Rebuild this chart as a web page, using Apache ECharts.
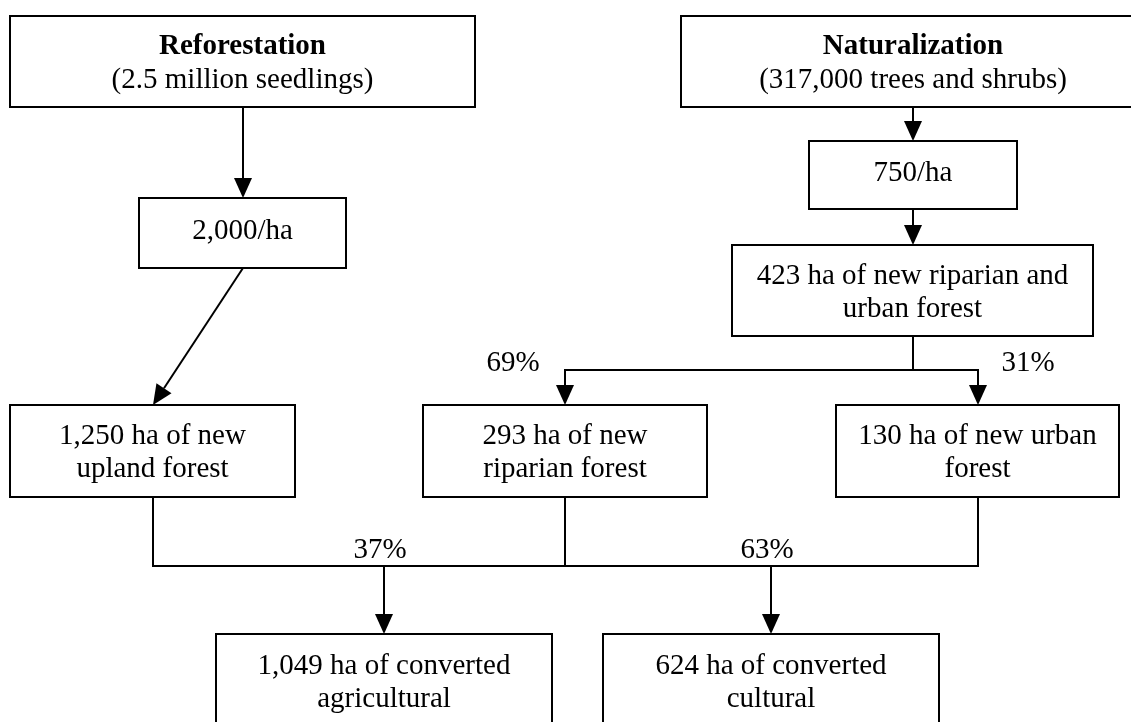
<!DOCTYPE html>
<html>
<head>
<meta charset="utf-8">
<title>Reforestation and naturalization</title>
<script src="https://cdn.jsdelivr.net/npm/echarts@6/dist/echarts.min.js"></script>
<style>
  html, body { margin: 0; padding: 0; background: #fff; }
  #chart { width: 1131px; height: 722px; }
</style>
</head>
<body>
<div id="chart"></div>
<script>
// chart text
const titles = ['Reforestation', 'Naturalization']
const subtitles = ['(2.5 million seedlings)', '(317,000 trees and shrubs)']
const densities = ['2,000/ha', '750/ha']
const newForests = [
  '423 ha of new riparian and\nurban forest',
  '1,250 ha of new\nupland forest',
  '293 ha of new\nriparian forest',
  '130 ha of new urban\nforest'
]
const conversions = ['1,049 ha of converted\nagricultural', '624 ha of converted\ncultural']
const splitShares = ['69%', '31%'] // riparian / urban
const mergeShares = ['37%', '63%'] // agricultural / cultural

// layout, in axis units (0..1131 x 0..722)
const boxes = {
  reforest: [10, 16, 475, 107],
  natural: [681, 16, 1145, 107],
  rateR: [139, 198, 346, 268],
  rateN: [809, 141, 1017, 209],
  mixed: [732, 245, 1093, 336],
  upland: [10, 405, 295, 497],
  riparian: [423, 405, 707, 497],
  urban: [836, 405, 1119, 497],
  agri: [216, 634, 552, 728],
  cultural: [603, 634, 939, 728]
}
const splitY = 370
const mergeY = 566

const nodes = [
  { id: 'reforest', title: titles[0], text: subtitles[0] },
  { id: 'natural', title: titles[1], text: subtitles[1] },
  { id: 'rateR', text: densities[0], dy: -4 },
  { id: 'rateN', text: densities[1], dy: -4 },
  { id: 'mixed', text: newForests[0] },
  { id: 'upland', text: newForests[1] },
  { id: 'riparian', text: newForests[2] },
  { id: 'urban', text: newForests[3] },
  { id: 'agri', text: conversions[0] },
  { id: 'cultural', text: conversions[1] }
]

const boxMid = k => Math.round((boxes[k][0] + boxes[k][2]) / 2)
const boxTop = k => boxes[k][1]
const boxBottom = k => boxes[k][3]

// connectors
const paths = []
;[['reforest', 'rateR'], ['natural', 'rateN'], ['rateN', 'mixed'], ['rateR', 'upland']].forEach(([a, b]) => {
  paths.push({ pts: [[boxMid(a), boxBottom(a)], [boxMid(b), boxTop(b)]], arrow: true })
})
paths.push({ pts: [[boxMid('mixed'), boxBottom('mixed')], [boxMid('mixed'), splitY]] })
;['riparian', 'urban'].forEach(t => {
  paths.push({ pts: [[boxMid('mixed'), splitY], [boxMid(t), splitY], [boxMid(t), boxTop(t)]], arrow: true })
})
const sources = ['upland', 'riparian', 'urban']
sources.forEach(s => paths.push({ pts: [[boxMid(s), boxBottom(s)], [boxMid(s), mergeY]] }))
paths.push({ pts: [[boxMid('upland') - 1, mergeY], [boxMid('urban') + 1, mergeY]] })
;['agri', 'cultural'].forEach(t => {
  paths.push({ pts: [[boxMid(t), mergeY], [boxMid(t), boxTop(t)]], arrow: true })
})

// percentage labels
const shares = [
  { text: splitShares[0], x: boxMid('riparian') - 52, y: splitY - 9 },
  { text: splitShares[1], x: boxMid('urban') + 50, y: splitY - 9 },
  { text: mergeShares[0], x: boxMid('agri') - 4, y: mergeY - 18 },
  { text: mergeShares[1], x: boxMid('cultural') - 4, y: mergeY - 18 }
]

const FONT = "'Liberation Serif', 'Times New Roman', serif"
const FS = 29
const LH = 33
const TEXT_SHIFT = 2

const chart = echarts.init(document.getElementById('chart'))

const arrowHead = (from, to, len, half) => {
  const dx = to[0] - from[0]
  const dy = to[1] - from[1]
  const d = Math.hypot(dx, dy)
  const ux = dx / d
  const uy = dy / d
  const bx = to[0] - ux * len
  const by = to[1] - uy * len
  return {
    base: [bx, by],
    tri: [[to[0], to[1]], [bx - uy * half, by + ux * half], [bx + uy * half, by - ux * half]]
  }
}

chart.setOption({
  animation: false,
  grid: { left: 0, right: 0, top: 0, bottom: 0 },
  xAxis: { type: 'value', min: 0, max: 1131, show: false },
  yAxis: { type: 'value', min: 0, max: 722, inverse: true, show: false },
  series: [
    {
      type: 'custom',
      name: 'links',
      data: paths.map((p, i) => [i, 0]),
      renderItem: (params, api) => {
        const p = paths[api.value(0)]
        const pts = p.pts.map(q => api.coord(q))
        const children = []
        if (p.arrow) {
          const n = pts.length
          const head = arrowHead(pts[n - 2], pts[n - 1], 20, 9)
          pts[n - 1] = head.base
          children.push({ type: 'polygon', shape: { points: head.tri }, style: { fill: '#000' } })
        }
        children.unshift({
          type: 'polyline',
          shape: { points: pts },
          style: { stroke: '#000', lineWidth: 2, fill: null }
        })
        return { type: 'group', children }
      }
    },
    {
      type: 'custom',
      name: 'boxes',
      data: nodes.map((n, i) => [i, 0]),
      renderItem: (params, api) => {
        const n = nodes[api.value(0)]
        const b = boxes[n.id]
        const p0 = api.coord([b[0], b[1]])
        const p1 = api.coord([b[2], b[3]])
        const label = n.title ? '{t|' + n.title + '}\n' + n.text : n.text
        return {
          type: 'group',
          children: [
            {
              type: 'rect',
              shape: { x: p0[0], y: p0[1], width: p1[0] - p0[0], height: p1[1] - p0[1] },
              style: { fill: '#fff', stroke: '#000', lineWidth: 2 }
            },
            {
              type: 'text',
              x: (p0[0] + p1[0]) / 2,
              y: (p0[1] + p1[1]) / 2 + (n.dy || 0) + TEXT_SHIFT,
              style: {
                text: label,
                fontFamily: FONT,
                fontSize: FS,
                lineHeight: LH,
                fill: '#000',
                align: 'center',
                verticalAlign: 'middle',
                rich: {
                  t: { fontFamily: FONT, fontSize: FS, fontWeight: 'bold', lineHeight: LH, fill: '#000' }
                }
              }
            }
          ]
        }
      }
    },
    {
      type: 'custom',
      name: 'shares',
      data: shares.map((s, i) => [i, 0]),
      renderItem: (params, api) => {
        const s = shares[api.value(0)]
        const p = api.coord([s.x, s.y])
        return {
          type: 'text',
          x: p[0],
          y: p[1] + TEXT_SHIFT,
          style: {
            text: s.text,
            fontFamily: FONT,
            fontSize: FS,
            fill: '#000',
            align: 'center',
            verticalAlign: 'middle'
          }
        }
      }
    }
  ]
})
</script>
</body>
</html>
